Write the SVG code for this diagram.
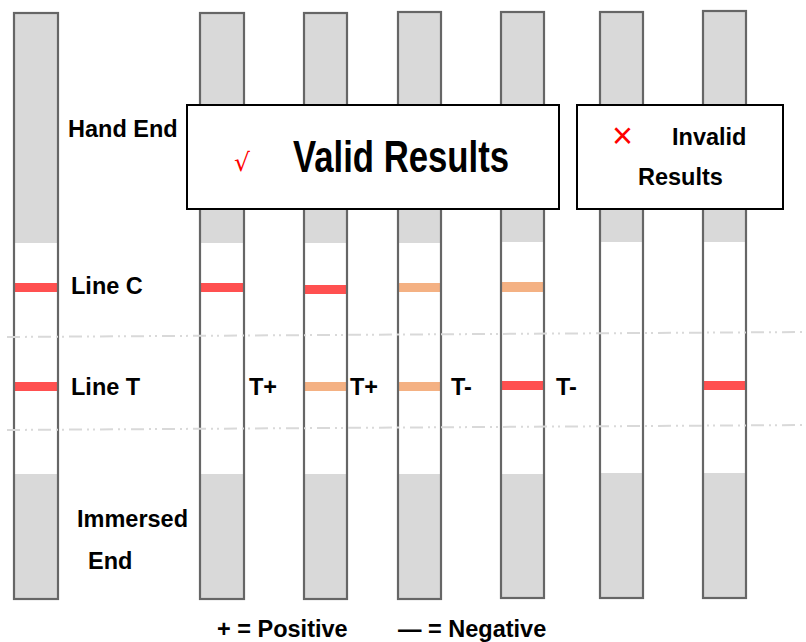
<svg xmlns="http://www.w3.org/2000/svg" width="806" height="642" viewBox="0 0 806 642">
<style>
.gray{fill:#D9D9D9;}
.white{fill:#FFFFFF;}
.outline{fill:none;stroke:#666666;stroke-width:2.2;}
.red{fill:#FF5050;}
.orange{fill:#F4B183;}
.lbl{font-family:"Liberation Sans",Arial,sans-serif;font-weight:bold;font-size:23.5px;fill:#000;}
.box{fill:#FFFFFF;stroke:#000;stroke-width:2;}
.guide{stroke:#D9D9D9;stroke-width:2;fill:none;stroke-dasharray:13 5 2 4 2 5;}
</style>
<rect width="806" height="642" fill="#FFFFFF"/>
<g id="strip1">
<rect class="gray" x="14" y="13" width="44" height="586"/>
<rect class="white" x="15" y="243" width="42" height="231"/>
<rect class="red" x="15" y="283" width="43" height="9"/>
<rect class="red" x="14" y="382" width="43" height="9"/>
<rect class="outline" x="14" y="13" width="44" height="586"/>
</g>
<g id="strip2">
<rect class="gray" x="200" y="13" width="44" height="586"/>
<rect class="white" x="201" y="243" width="42" height="231"/>
<rect class="red" x="200" y="283" width="44" height="9"/>
<rect class="outline" x="200" y="13" width="44" height="586"/>
</g>
<g id="strip3">
<rect class="gray" x="304" y="13" width="43" height="586"/>
<rect class="white" x="305" y="243" width="41" height="231"/>
<rect class="red" x="304" y="285" width="42" height="9"/>
<rect class="orange" x="304" y="382" width="42" height="9"/>
<rect class="outline" x="304" y="13" width="43" height="586"/>
</g>
<g id="strip4">
<rect class="gray" x="398" y="12" width="43" height="587"/>
<rect class="white" x="399" y="243" width="41" height="231"/>
<rect class="orange" x="398" y="283" width="42" height="9"/>
<rect class="orange" x="398" y="382" width="42" height="9"/>
<rect class="outline" x="398" y="12" width="43" height="587"/>
</g>
<g id="strip5">
<rect class="gray" x="501" y="12" width="43" height="586"/>
<rect class="white" x="502" y="242" width="41" height="232"/>
<rect class="orange" x="501" y="282" width="43" height="10"/>
<rect class="red" x="501" y="381" width="42" height="9"/>
<rect class="outline" x="501" y="12" width="43" height="586"/>
</g>
<g id="strip6">
<rect class="gray" x="600" y="12" width="43" height="586"/>
<rect class="white" x="601" y="242" width="41" height="231"/>
<rect class="outline" x="600" y="12" width="43" height="586"/>
</g>
<g id="strip7">
<rect class="gray" x="703" y="11" width="43" height="587"/>
<rect class="white" x="704" y="242" width="41" height="231"/>
<rect class="red" x="703" y="381" width="42" height="9"/>
<rect class="outline" x="703" y="11" width="43" height="587"/>
</g>
<g id="connectors">
<line class="guide" x1="7" y1="337" x2="806" y2="332"/>
<line class="guide" x1="7" y1="430" x2="806" y2="425"/>
</g>
<g id="valid-box">
<rect class="box" x="187" y="105" width="372" height="104"/>
<text x="234" y="171" font-family="'DejaVu Sans','Liberation Sans',sans-serif" font-size="25" fill="#FF0000">√</text>
<text class="lbl" x="293" y="172" style="font-size:44px" textLength="216" lengthAdjust="spacingAndGlyphs">Valid Results</text>
</g>
<g id="invalid-box">
<rect class="box" x="577" y="105" width="206" height="104"/>
<text x="612" y="148" font-family="'Liberation Sans',Arial,sans-serif" font-size="36" fill="#FF0000">×</text>
<text class="lbl" x="672" y="145">Invalid</text>
<text class="lbl" x="638" y="185">Results</text>
</g>
<g id="labels">
<text class="lbl" x="68" y="137">Hand End</text>
<text class="lbl" x="71" y="294">Line C</text>
<text class="lbl" x="71" y="395">Line T</text>
<text class="lbl" x="249" y="395">T+</text>
<text class="lbl" x="350" y="395">T+</text>
<text class="lbl" x="451" y="395">T-</text>
<text class="lbl" x="556" y="395">T-</text>
<text class="lbl" x="77" y="527">Immersed</text>
<text class="lbl" x="88" y="569">End</text>
<text class="lbl" x="217" y="637">+ = Positive</text>
<text class="lbl" x="398" y="637">— = Negative</text>
</g>
</svg>
